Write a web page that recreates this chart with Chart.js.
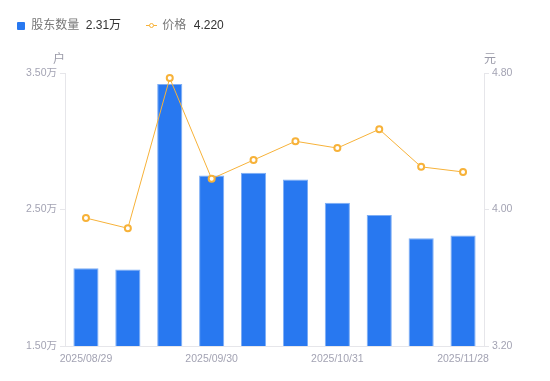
<!DOCTYPE html>
<html>
<head>
<meta charset="utf-8">
<script src="https://cdn.jsdelivr.net/npm/chart.js@4.4.1/dist/chart.umd.min.js"></script>
<style>
  html, body { margin: 0; padding: 0; background: #fff; }
  #wrap { position: relative; width: 550px; height: 381px; font-family: "Liberation Sans", "Noto Sans CJK SC", sans-serif; }
  canvas { position: absolute; left: 0; top: 0; }
  .lg { position: absolute; top: 17px; font-size: 12px; line-height: 16px; white-space: nowrap; }
  .unit { position: absolute; top: 49px; font-size: 12px; color: #9a9aa8; }
</style>
</head>
<body>
<div id="wrap">
  <canvas id="c" width="550" height="381"></canvas>
  <div class="lg" style="left:17px;">
    <span style="display:inline-block;width:8px;height:8px;background:#2878f0;border-radius:1px;vertical-align:-1px;"></span>
    <span style="color:#777;margin-left:3px;">股东数量</span>
    <span style="color:#333;margin-left:3px;">2.31万</span>
  </div>
  <div class="lg" style="left:146px;">
    <span style="display:inline-block;position:relative;width:11px;height:9px;vertical-align:-1px;">
      <span style="position:absolute;left:0;top:4px;width:11px;height:1px;background:#f7b239;"></span>
      <span style="position:absolute;left:3px;top:1.5px;width:3px;height:3px;border:1.5px solid #f7b239;border-radius:50%;background:#fff;"></span>
    </span>
    <span style="color:#777;margin-left:2px;">价格</span>
    <span style="color:#333;margin-left:4px;">4.220</span>
  </div>
  <div class="unit" style="left:53px;">户</div>
  <div class="unit" style="left:484px;">元</div>
</div>
<script>
const categories = ["2025/08/29","2025/09/10","2025/09/19","2025/09/30","2025/10/10","2025/10/20","2025/10/31","2025/11/10","2025/11/20","2025/11/28"];
const holders = [2.07, 2.06, 3.42, 2.75, 2.77, 2.72, 2.55, 2.46, 2.29, 2.31];
const prices = [3.95, 3.89, 4.77, 4.18, 4.29, 4.40, 4.36, 4.47, 4.25, 4.22];
const shownLabelIdx = [0, 3, 6, 9];

const tickColor = '#a3a3b3';
const lineColor = '#e6e6ea';
const font = { family: '"Liberation Sans", "Noto Sans CJK SC", sans-serif', size: 10.5 };

new Chart(document.getElementById('c'), {
  data: {
    labels: categories,
    datasets: [
      {
        type: 'line', label: '价格', data: prices, yAxisID: 'y1', order: 0,
        borderColor: '#f7b239', borderWidth: 1, tension: 0,
        pointRadius: 3, pointBorderWidth: 2, pointBackgroundColor: '#fff', pointBorderColor: '#f7b239'
      },
      {
        type: 'bar', label: '股东数量', data: holders, yAxisID: 'y', order: 1,
        backgroundColor: '#2878f0', borderColor: '#7eaef5', borderWidth: { top: 1, left: 1, right: 1, bottom: 0 },
        borderSkipped: 'bottom', categoryPercentage: 1, barPercentage: 0.6
      }
    ]
  },
  options: {
    responsive: false, animation: false,
    layout: { padding: { top: 73, left: 0, right: 0, bottom: 0 } },
    plugins: { legend: { display: false }, tooltip: { enabled: false } },
    scales: {
      x: {
        offset: true,
        grid: { display: false, drawTicks: false },
        border: { display: true, color: lineColor },
        ticks: {
          autoSkip: false, maxRotation: 0, color: tickColor, font, padding: 7,
          callback: (v, i) => shownLabelIdx.includes(i) ? categories[i] : ''
        },
        afterFit: s => { s.height = 35; }
      },
      y: {
        position: 'left', min: 1.5, max: 3.5,
        grid: { drawOnChartArea: false, drawTicks: true, tickLength: 5, color: lineColor },
        border: { display: true, color: lineColor },
        ticks: { stepSize: 1, color: tickColor, font, padding: 3, callback: v => v.toFixed(2) + '万' },
        afterFit: s => { s.width = 65; }
      },
      y1: {
        position: 'right', min: 3.2, max: 4.8,
        grid: { drawOnChartArea: false, drawTicks: true, tickLength: 5, color: lineColor },
        border: { display: true, color: lineColor },
        ticks: { stepSize: 0.8, color: tickColor, font, padding: 3, callback: v => v.toFixed(2) },
        afterFit: s => { s.width = 66; }
      }
    }
  }
});
</script>
</body>
</html>
